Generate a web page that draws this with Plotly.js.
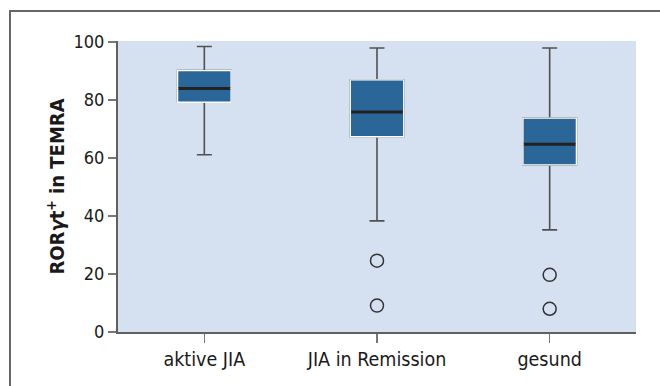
<!DOCTYPE html>
<html><head><meta charset="utf-8">
<script src="https://cdn.plot.ly/plotly-3.0.1.min.js"></script>
<style>
html,body{margin:0;padding:0;background:#fff;}
#wrap{position:relative;width:660px;height:386px;overflow:hidden;}
#frame{position:absolute;left:9px;top:10px;width:700px;height:400px;border-left:2px solid #666;border-top:2px solid #666;pointer-events:none;}
#chart{position:absolute;left:0;top:0;width:660px;height:386px;}
</style></head>
<body><div id="wrap"><div id="chart"></div><div id="frame"></div></div>
<script>
const categories = ["aktive JIA", "JIA in Remission", "gesund"];
const lowerWhisker = [61.1, 38.3, 35.2];
const q1Values = [79.2, 67.3, 57.6];
const medianValues = [83.9, 75.8, 64.7];
const q3Values = [90.1, 86.9, 73.7];
const upperWhisker = [98.4, 97.9, 97.9];
const outlierCats = ["JIA in Remission", "JIA in Remission", "gesund", "gesund"];
const outlierValues = [24.6, 9.1, 19.7, 8.0];
const yTicks = [0, 20, 40, 60, 80, 100];

const FONT = "'DejaVu Sans Condensed', 'Liberation Sans Narrow', sans-serif";
const BLUE = "#2b6699";
const BW = 0.31;

const traces = [
  { type: "box", x: categories, q1: q1Values, median: medianValues, q3: q3Values,
    lowerfence: lowerWhisker, upperfence: upperWhisker,
    fillcolor: BLUE, line: {color: "#505050", width: 1.6}, whiskerwidth: 0.28,
    width: BW, boxpoints: false, hoverinfo: "skip", showlegend: false },
  { type: "box", x: categories, q1: q1Values, median: medianValues, q3: q3Values,
    lowerfence: q1Values, upperfence: q3Values,
    fillcolor: BLUE, line: {color: "#ffffff", width: 1.4}, whiskerwidth: 0,
    width: BW, boxpoints: false, hoverinfo: "skip", showlegend: false },
  { type: "box", x: categories, q1: medianValues, median: medianValues, q3: medianValues,
    lowerfence: medianValues, upperfence: medianValues,
    fillcolor: "#222222", line: {color: "#222222", width: 3}, whiskerwidth: 0,
    width: BW * 0.97, boxpoints: false, hoverinfo: "skip", showlegend: false },
  { type: "scatter", mode: "markers", x: outlierCats, y: outlierValues,
    marker: {symbol: "circle-open", size: 13, color: "#333333", line: {width: 1.5}},
    hoverinfo: "skip", showlegend: false }
];

const layout = {
  width: 660, height: 386,
  margin: {l: 118, r: 24, t: 41, b: 54},
  paper_bgcolor: "#ffffff",
  plot_bgcolor: "#d5e0f1",
  boxmode: "overlay",
  font: {family: FONT, color: "#1a1a1a", size: 16},
  xaxis: {
    type: "category", categoryorder: "array", categoryarray: categories,
    range: [-0.5, 2.5], showline: true, linecolor: "#606060", linewidth: 2,
    ticks: "outside", ticklen: 9, tickwidth: 1.5, tickcolor: "#777",
    showgrid: false, zeroline: false, tickfont: {size: 19.5, family: FONT}
  },
  yaxis: {
    range: [0, 100.3], tickvals: yTicks, ticktext: yTicks.map(String),
    showline: true, linecolor: "#606060", linewidth: 2,
    ticks: "outside", ticklen: 8, tickwidth: 1.5, tickcolor: "#777",
    showgrid: false, zeroline: false, tickfont: {size: 18, family: FONT},
    title: {text: "ROR<i>γ</i>t<sup>+</sup> in TEMRA", standoff: 3,
            font: {size: 20, family: FONT, weight: "bold"}}
  }
};

Plotly.newPlot("chart", traces, layout, {displayModeBar: false, staticPlot: true});
</script></body></html>
